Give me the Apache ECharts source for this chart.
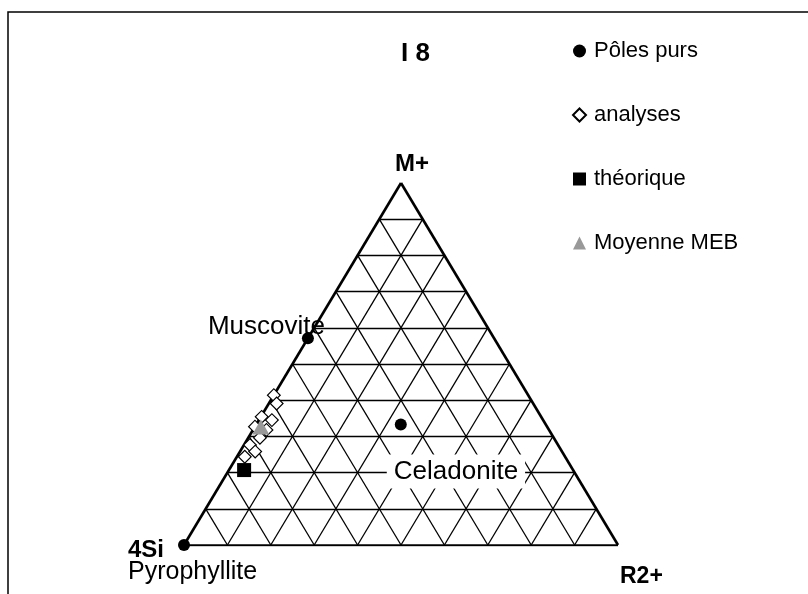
<!DOCTYPE html>
<html>
<head>
<meta charset="utf-8">
<script src="https://cdn.jsdelivr.net/npm/echarts@6/dist/echarts.min.js"></script>
<style>
  html, body { margin: 0; padding: 0; background: #fff; }
  #chart { width: 808px; height: 594px; }
</style>
</head>
<body>
<div id="chart"></div>
<script>
// Ternary fractions: M = M+, R = R2+ (4Si = 1 - M - R)
const gridSteps = [0.1, 0.2, 0.3, 0.4, 0.5, 0.6, 0.7, 0.8, 0.9];

const poleNames = ["Pyrophyllite", "Muscovite", "Celadonite"];
const polesM = [0, 0.571, 0.333];
const polesR = [0, 0, 0.333];

const analysesM = [0.414, 0.391, 0.354, 0.345, 0.327, 0.318, 0.296, 0.276, 0.258, 0.244];
const analysesR = [0.0, 0.018, 0.002, 0.03, 0.0, 0.031, 0.027, 0.014, 0.035, 0.018];

const theoM = [0.207];
const theoR = [0.035];

const mebM = [0.326];
const mebR = [0.014];

const vertexNames = ["M+", "R2+"];
const vertexM = [1, 0];
const vertexR = [0, 1];

const FONT = "Liberation Sans, Arial, sans-serif";

function toXY(m, r) {
  return [r + m / 2, m];
}

function gridLines() {
  const lines = [];
  for (const k of gridSteps) {
    lines.push({ coords: [toXY(k, 0), toXY(k, 1 - k)] });
    lines.push({ coords: [toXY(0, k), toXY(1 - k, k)] });
    lines.push({ coords: [toXY(0, 1 - k), toXY(1 - k, 0)] });
  }
  return lines;
}

function edges() {
  return [
    { coords: [toXY(0, 0), toXY(0, 1)] },
    { coords: [toXY(0, 1), toXY(1, 0)] },
    { coords: [toXY(1, 0), toXY(0, 0)] }
  ];
}

const poleLabels = {
  Pyrophyllite: {
    position: [-50, 1], align: "left", verticalAlign: "top",
    formatter: "{b|4Si}\n{n|Pyrophyllite}",
    rich: {
      b: { fontFamily: FONT, fontSize: 24, fontWeight: "bold", color: "#000", lineHeight: 20 },
      n: { fontFamily: FONT, fontSize: 25, color: "#000", lineHeight: 24 }
    }
  },
  Muscovite: { position: [-94, -5], align: "left", verticalAlign: "middle" },
  Celadonite: {
    position: [-8, 53], align: "left", verticalAlign: "middle",
    backgroundColor: "#fff", padding: [4, 7]
  }
};

const chart = echarts.init(document.getElementById("chart"));

chart.setOption({
  animation: false,
  backgroundColor: "#fff",
  title: {
    text: "I 8",
    left: 396,
    top: 36,
    textStyle: { fontFamily: FONT, fontSize: 26, fontWeight: "bold", color: "#000" }
  },
  legend: {
    orient: "vertical",
    left: 567,
    top: 35,
    itemGap: 42,
    itemWidth: 13,
    itemHeight: 13,
    textStyle: { fontFamily: FONT, fontSize: 22, color: "#000", padding: [0, 0, 0, 3] },
    data: [
      { name: "Pôles purs", icon: "circle" },
      { name: "analyses", icon: "diamond" },
      { name: "théorique", icon: "rect" },
      { name: "Moyenne MEB", icon: "triangle" }
    ]
  },
  graphic: [
    {
      type: "rect",
      shape: { x: 8, y: 12, width: 900, height: 700 },
      style: { fill: "none", stroke: "#000", lineWidth: 1.5 },
      silent: true
    }
  ],
  grid: { left: 184, right: 190, top: 183, bottom: 49 },
  xAxis: { type: "value", min: 0, max: 1, show: false },
  yAxis: { type: "value", min: 0, max: 1, show: false },
  series: [
    {
      name: "grille",
      type: "lines",
      coordinateSystem: "cartesian2d",
      silent: true,
      z: 1,
      lineStyle: { color: "#000", width: 1.3, opacity: 1 },
      data: gridLines()
    },
    {
      name: "bords",
      type: "lines",
      coordinateSystem: "cartesian2d",
      silent: true,
      z: 2,
      lineStyle: { color: "#000", width: 2.6, opacity: 1 },
      data: edges()
    },
    {
      name: "sommets",
      type: "scatter",
      symbolSize: 0,
      z: 3,
      itemStyle: { color: "#000", opacity: 1 },
      label: {
        show: true,
        formatter: "{b}",
        fontFamily: FONT,
        fontSize: 24,
        fontWeight: "bold",
        color: "#000",
        opacity: 1
      },
      data: vertexNames.map((name, i) => ({
        name,
        value: toXY(vertexM[i], vertexR[i]),
        label: name === "M+"
          ? { position: "top", distance: 7, offset: [11, 0] }
          : { position: [2, 32], align: "left", verticalAlign: "middle", fontSize: 23 }
      }))
    },
    {
      name: "analyses",
      type: "scatter",
      symbol: "rect",
      symbolRotate: 45,
      symbolSize: 9,
      z: 4,
      itemStyle: { color: "#fff", borderColor: "#000", borderWidth: 1.2, opacity: 1 },
      data: analysesM.map((m, i) => toXY(m, analysesR[i]))
    },
    {
      name: "théorique",
      type: "scatter",
      symbol: "rect",
      symbolSize: 14,
      z: 5,
      itemStyle: { color: "#000", opacity: 1 },
      data: theoM.map((m, i) => toXY(m, theoR[i]))
    },
    {
      name: "Moyenne MEB",
      type: "scatter",
      symbol: "triangle",
      symbolSize: [17, 15],
      z: 6,
      itemStyle: { color: "#999", opacity: 1 },
      data: mebM.map((m, i) => toXY(m, mebR[i]))
    },
    {
      name: "Pôles purs",
      type: "scatter",
      symbol: "circle",
      symbolSize: 12,
      z: 7,
      itemStyle: { color: "#000", opacity: 1 },
      label: {
        show: true,
        formatter: "{b}",
        fontFamily: FONT,
        fontSize: 26,
        color: "#000"
      },
      data: poleNames.map((name, i) => ({
        name,
        value: toXY(polesM[i], polesR[i]),
        label: poleLabels[name]
      }))
    }
  ]
});
</script>
</body>
</html>
